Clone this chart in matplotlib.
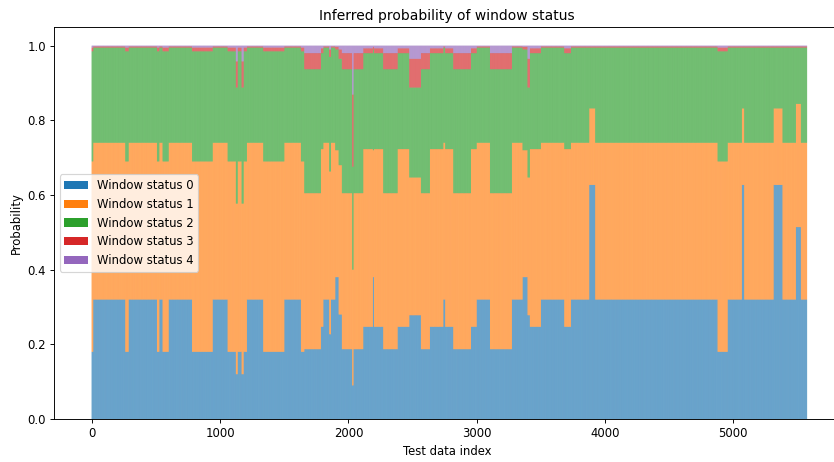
import numpy as np
import matplotlib
matplotlib.use("Agg")
import matplotlib.pyplot as plt

# Piecewise-constant segments (start index of each segment)
seg_start = [0, 12, 262, 288, 509, 527, 553, 600, 782, 943,
             1060, 1124, 1138, 1169, 1184, 1210, 1337, 1501, 1631, 1657,
             1787, 1805, 1851, 1865, 1898, 1925, 1950, 2030, 2040, 2116,
             2192, 2200, 2272, 2384, 2475, 2566, 2636, 2740, 2755, 2818,
             2956, 3000, 3104, 3275, 3358, 3397, 3415, 3501, 3683, 3735,
             3877, 3924, 4878, 4956, 5067, 5085, 5314, 5384, 5488, 5527]
n_total = 5575

# segment types: A, B, C, D, E, F, H, I, J, S (spike), G (spike), T
seg_type = ["B", "A", "B", "A", "B", "A", "B", "A", "B", "A",
            "B", "S", "B", "S", "B", "A", "B", "A", "B", "C",
            "D", "A", "T", "A", "E", "F", "C", "G", "C", "D",
            "E", "D", "C", "D", "H", "C", "D", "A", "D", "C",
            "D", "A", "C", "A", "E", "H", "D", "A", "D", "A",
            "I", "A", "B", "A", "I", "A", "I", "A", "J", "A"]

type_names = ["A", "B", "C", "D", "E", "F", "H", "I", "J", "S", "G", "T"]
status0 = [0.320, 0.180, 0.187, 0.247, 0.380, 0.280, 0.278, 0.627, 0.514, 0.120, 0.090, 0.227]
status1 = [0.420, 0.510, 0.418, 0.476, 0.340, 0.400, 0.369, 0.205, 0.330, 0.457, 0.310, 0.436]
status2 = [0.255, 0.295, 0.332, 0.257, 0.270, 0.285, 0.241, 0.163, 0.151, 0.311, 0.276, 0.307]
status3 = [0.003, 0.010, 0.043, 0.013, 0.007, 0.025, 0.077, 0.003, 0.003, 0.070, 0.193, 0.020]
status4 = [0.002, 0.005, 0.020, 0.007, 0.003, 0.010, 0.035, 0.002, 0.002, 0.042, 0.131, 0.010]

labels = ["Window status 0", "Window status 1", "Window status 2",
          "Window status 3", "Window status 4"]

# expand segments to per-index arrays
lengths = np.diff(seg_start + [n_total])
tidx = [type_names.index(t) for t in seg_type]
series = []
for s in (status0, status1, status2, status3, status4):
    vals = np.array([s[i] for i in tidx])
    series.append(np.repeat(vals, lengths))
x = np.arange(n_total)

DPI = 83.4
fig = plt.figure(figsize=(834 / DPI, 462 / DPI), dpi=DPI)
ax = fig.add_axes([54 / 834, 43 / 462, 786 / 834, 392 / 462])
bottom = np.zeros(n_total)
for vals, lab in zip(series, labels):
    ax.bar(x, vals, bottom=bottom, label=lab, width=1.0, snap=False)
    bottom = bottom + vals

ax.set_xlim(-294, 5831)
ax.set_ylim(0, 1.05)
ax.set_title("Inferred probability of window status")
ax.set_xlabel("Test data index")
ax.set_ylabel("Probability")
ax.legend(loc="center left")
fig.savefig("out.png", dpi=DPI)
